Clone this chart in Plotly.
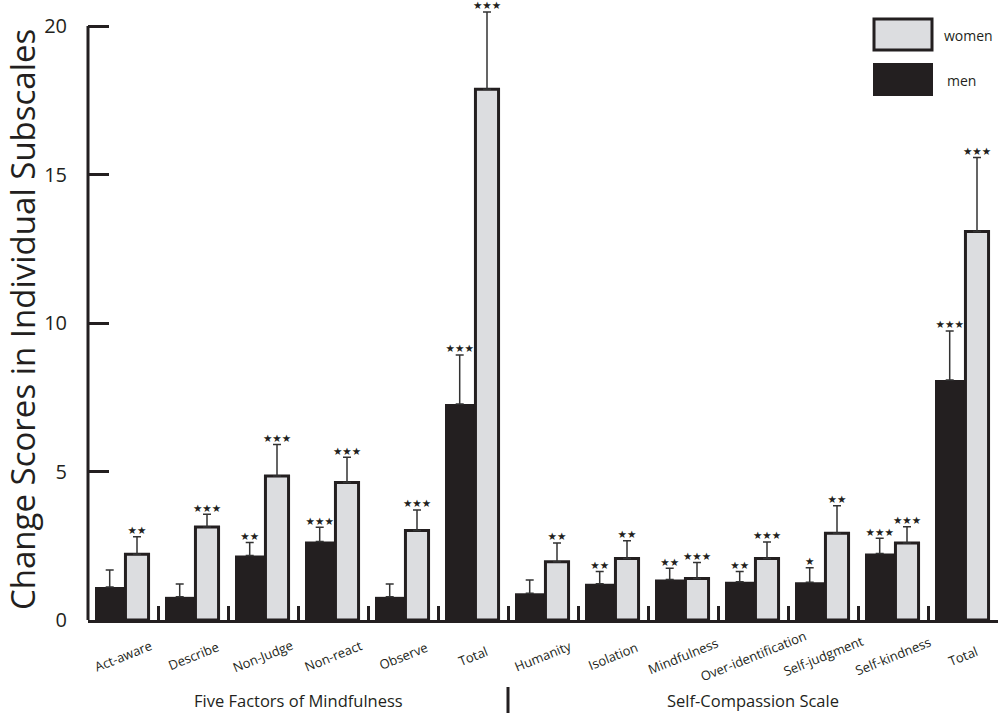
import plotly.graph_objects as go

subscales = ["Act-aware", "Describe", "Non-Judge", "Non-react", "Observe", "Total",
             "Humanity", "Isolation", "Mindfulness", "Over-identification",
             "Self-judgment", "Self-kindness", "Total"]
groups = ["Five Factors of Mindfulness", "Self-Compassion Scale"]
group_sizes = [6, 7]

men = [1.11, 0.78, 2.17, 2.64, 0.78, 7.27, 0.90, 1.22, 1.36, 1.29, 1.27, 2.24, 8.08]
men_err = [0.57, 0.43, 0.44, 0.48, 0.43, 1.65, 0.45, 0.41, 0.38, 0.34, 0.49, 0.51, 1.65]
women = [2.21, 3.13, 4.85, 4.63, 3.01, 17.87, 1.96, 2.07, 1.40, 2.07, 2.92, 2.59, 13.08]
women_err = [0.59, 0.43, 1.06, 0.85, 0.69, 2.60, 0.63, 0.60, 0.54, 0.56, 0.93, 0.55, 2.49]

men_sig = ["", "", "★★", "★★★", "", "★★★", "", "★★", "★★", "★★", "★", "★★★", "★★★"]
women_sig = ["★★", "★★★", "★★★", "★★★", "★★★", "★★★", "★★", "★★", "★★★", "★★★", "★★", "★★★", "★★★"]

y_ticks = [0, 5, 10, 15, 20]

INK = "#231f20"
GRAY = "#dcdde0"
FONT = "Open Sans"

n = len(subscales)
xs = list(range(n))

MEN_OFF, MEN_W = -0.40, 0.42
WOM_OFF, WOM_W = 0.035, 0.33

# layout geometry (pixels)
TOP, BOTTOM = 10, 94
PLOT_H = 714 - TOP - BOTTOM
PX_PER_UNIT = 29.7
Y0_PX = 714 - BOTTOM  # pixel row of y=0


def py(pix):
    """paper y from a pixel row"""
    return (Y0_PX - pix) / PLOT_H


def px(pix):
    """paper x from a pixel column"""
    return (pix - 88) / 910


fig = go.Figure()
fig.add_trace(go.Bar(
    x=xs, y=men, name="men", offset=MEN_OFF, width=MEN_W,
    marker=dict(color=INK, line=dict(width=0)),
    error_y=dict(type="data", symmetric=False, array=men_err,
                 arrayminus=[0] * n, color="#333333", thickness=1.5, width=4),
    showlegend=False,
))
fig.add_trace(go.Bar(
    x=xs, y=women, name="women", offset=WOM_OFF, width=WOM_W,
    marker=dict(color=GRAY, line=dict(width=3, color=INK)),
    error_y=dict(type="data", symmetric=False, array=women_err,
                 arrayminus=[0] * n, color="#333333", thickness=1.5, width=4),
    showlegend=False,
))

men_cx = [i + MEN_OFF + MEN_W / 2 for i in xs]
wom_cx = [i + WOM_OFF + WOM_W / 2 for i in xs]
fig.add_trace(go.Scatter(
    x=men_cx, y=[v + e for v, e in zip(men, men_err)], text=men_sig,
    mode="text", textposition="top center", cliponaxis=False,
    textfont=dict(family="DejaVu Sans", size=10.5, color=INK),
    showlegend=False, hoverinfo="skip",
))
fig.add_trace(go.Scatter(
    x=wom_cx, y=[v + e for v, e in zip(women, women_err)], text=women_sig,
    mode="text", textposition="top center", cliponaxis=False,
    textfont=dict(family="DejaVu Sans", size=10.5, color=INK),
    showlegend=False, hoverinfo="skip",
))

fig.update_layout(
    width=1000, height=714,
    margin=dict(l=88, r=2, t=TOP, b=BOTTOM),
    paper_bgcolor="white", plot_bgcolor="white",
    barmode="overlay",
    xaxis=dict(
        range=[-0.5, n - 0.5], showgrid=False, zeroline=False,
        showline=True, linewidth=3, linecolor=INK,
        tickmode="array", tickvals=[i + 0.5 for i in xs],
        ticks="inside", ticklen=14, tickwidth=3, tickcolor=INK,
        showticklabels=False,
    ),
    yaxis=dict(
        range=[0, PLOT_H / PX_PER_UNIT], showgrid=False, zeroline=False, showline=False,
        tickmode="array", tickvals=y_ticks,
        ticks="inside", ticklen=21, tickwidth=3, tickcolor=INK,
        ticklabelstandoff=20,
        tickfont=dict(family=FONT, size=20, color=INK),
    ),
    font=dict(family=FONT, color=INK),
)

# y axis line up to 20
fig.add_shape(type="line", xref="paper", yref="y", x0=0, x1=0, y0=0, y1=y_ticks[-1],
              line=dict(color=INK, width=3))

# y title
fig.add_annotation(text="Change Scores in Individual Subscales", xref="paper", yref="paper",
                   x=px(22), y=py(320), textangle=-90, showarrow=False,
                   xanchor="center", yanchor="middle",
                   font=dict(family=FONT, size=33, color=INK))

# category labels
for i, lab in enumerate(subscales):
    fig.add_annotation(text=lab, xref="x", yref="paper", x=i, y=0, yshift=-36,
                       textangle=-22, showarrow=False, xanchor="center", yanchor="middle",
                       font=dict(family=FONT, size=13, color=INK))

# group labels and divider
start = 0
for g, size in zip(groups, group_sizes):
    center = start + (size - 1) / 2
    fig.add_annotation(text=g, xref="x", yref="paper", x=center, y=0, yshift=-80,
                       showarrow=False, xanchor="center", yanchor="middle",
                       font=dict(family=FONT, size=16.5, color=INK))
    start += size
fig.add_shape(type="line", xref="x", yref="paper", x0=group_sizes[0] - 0.5,
              x1=group_sizes[0] - 0.5, y0=py(687), y1=py(713),
              line=dict(color=INK, width=3))

# legend
fig.add_shape(type="rect", xref="paper", yref="paper",
              x0=px(874), x1=px(932), y0=py(50), y1=py(19),
              fillcolor=GRAY, line=dict(color=INK, width=3))
fig.add_shape(type="rect", xref="paper", yref="paper",
              x0=px(873), x1=px(933), y0=py(96), y1=py(63),
              fillcolor=INK, line=dict(color=INK, width=0))
fig.add_annotation(text="women", xref="paper", yref="paper", x=px(942),
                   y=py(35), xanchor="left", yanchor="middle", showarrow=False,
                   font=dict(family=FONT, size=14, color=INK))
fig.add_annotation(text="men", xref="paper", yref="paper", x=px(945),
                   y=py(80), xanchor="left", yanchor="middle", showarrow=False,
                   font=dict(family=FONT, size=14, color=INK))

fig.write_html("out.html",
               config={"displayModeBar": False},
               post_script="document.body.style.margin='0px';"
                           "document.body.style.overflow='hidden';")
